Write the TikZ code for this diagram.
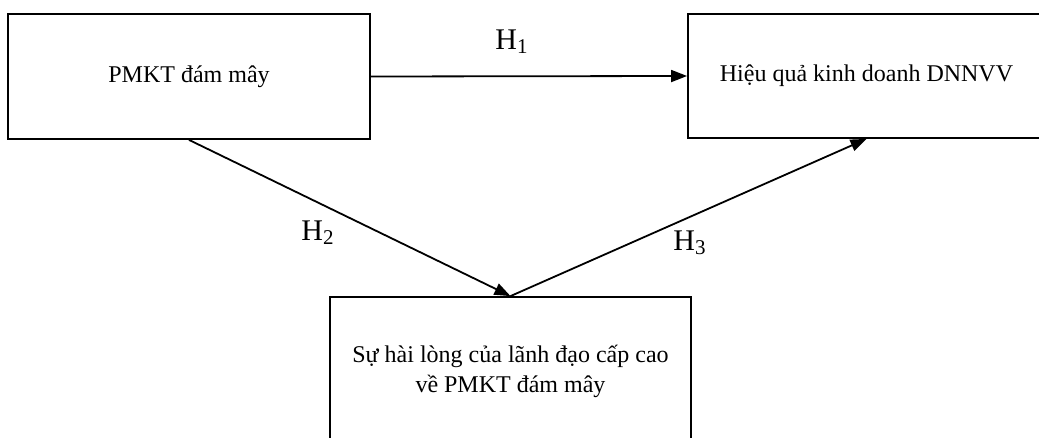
\documentclass[tikz,border=0pt]{standalone}
\usepackage{fontspec}
\setmainfont{Liberation Serif}
\usetikzlibrary{arrows.meta}

\begin{document}
\begin{tikzpicture}[x=0.5pt, y=-0.5pt,
  box/.style={draw, line width=0.9pt, align=center, inner sep=0pt,
    font=\fontsize{12}{15}\selectfont},
  link/.style={line width=0.9pt, -{Triangle[length=8pt,width=6pt]}},
  hyp/.style={font=\fontsize{15}{18}\selectfont}]
  \useasboundingbox (0,0) rectangle (1039,438);
  \clip (0,0) rectangle (1039,438);
  \node[box, minimum width=181pt, minimum height=62.5pt] (pmkt) at (189,76.5) {PMKT đám mây};
  \node[box, minimum width=178.5pt, minimum height=62pt] (hieuqua) at (866.5,76) {Hiệu quả kinh doanh DNNVV};
  \node[box, minimum width=180.5pt, minimum height=74pt] (hailong) at (510.5,371)
    {Sự hài lòng của lãnh đạo cấp cao\\về PMKT đám mây};
  \draw[link] (pmkt.east) -- (hieuqua.west);
  \draw[link] (pmkt.south) -- (hailong.north);
  \draw[link] (hailong.north) -- (hieuqua.south);
  \node[hyp] (h1) at (512,42) {H\textsubscript{1}};
  \node[hyp] (h2) at (318,233) {H\textsubscript{2}};
  \node[hyp] (h3) at (690,243) {H\textsubscript{3}};
\end{tikzpicture}
\end{document}
